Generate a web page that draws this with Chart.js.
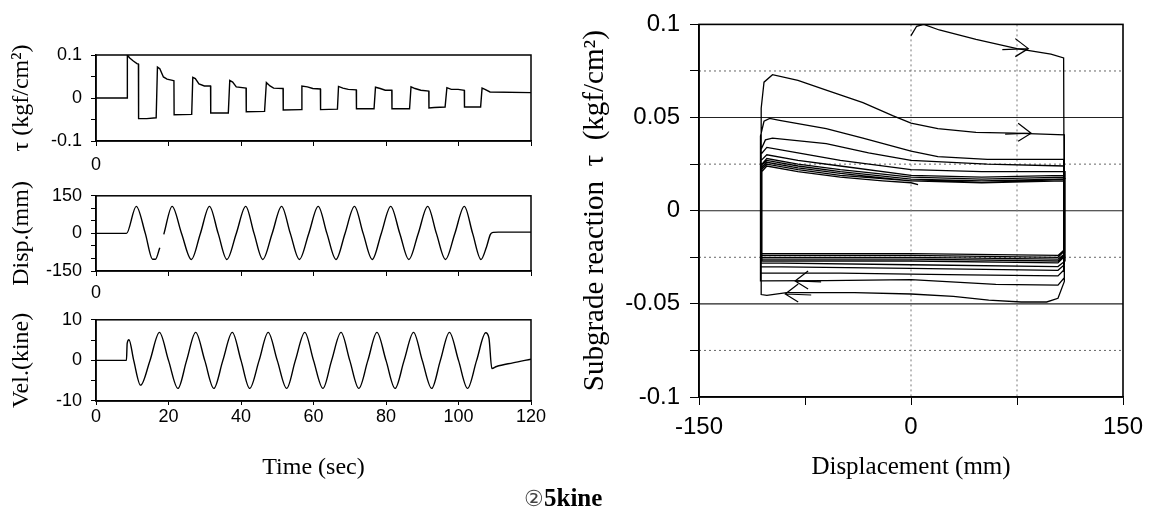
<!DOCTYPE html>
<html>
<head>
<meta charset="utf-8">
<script src="https://cdn.jsdelivr.net/npm/chart.js@4.4.0/dist/chart.umd.min.js"></script>
<style>
  body { margin: 0; background: #fff; width: 1154px; height: 519px; position: relative; overflow: hidden; }
  canvas { position: absolute; }
  #caption { position: absolute; left: 524px; top: 484px; font: bold 25px "Liberation Serif", "Times New Roman", serif; color: #000; white-space: nowrap; }
  #caption span { font-weight: normal; font-size: 22px; color: #444; }
</style>
</head>
<body>
<canvas id="tauChart" width="560" height="176" style="left:0;top:0"></canvas>
<canvas id="dispChart" width="560" height="124" style="left:0;top:176px"></canvas>
<canvas id="velChart" width="560" height="219" style="left:0;top:300px"></canvas>
<canvas id="loopChart" width="594" height="519" style="left:560px;top:0"></canvas>
<div id="caption"><span>②</span>5kine</div>
<script>
// subgrade reaction vs time (kgf/cm2)
let tauTime = [0, 8.6, 8.65, 9.3, 10.3, 11.3, 11.7,
  11.75, 14, 16.6,
  16.95, 17.6, 18.6, 19.6, 21.1, 21.5,
  21.55, 26.4,
  26.7, 27.4, 28.4, 29.9, 31.6,
  31.65, 36.5,
  36.9, 37.7, 38.7, 41.4,
  41.45, 46.5,
  47.0, 48.0, 49.0, 51.6,
  51.65, 56.6,
  56.8, 58.3, 59.8, 61.9,
  61.95, 66.6,
  66.9, 68.1, 69.6, 71.8,
  71.85, 76.7,
  77.1, 78.4, 79.8, 81.6,
  81.65, 86.5,
  86.9, 88.0, 89.6, 91.8,
  91.85, 93.3, 96.3,
  96.8, 98.0, 99.9, 101.6,
  101.65, 106.1,
  106.5, 107.3, 108.7, 120];
let tauValue = [0, 0, 0.1, 0.093, 0.086, 0.08, 0.079,
  -0.048, -0.048, -0.046,
  0.072, 0.068, 0.049, 0.044, 0.041, 0.04,
  -0.039, -0.038,
  0.048, 0.045, 0.033, 0.028, 0.028,
  -0.035, -0.035,
  0.041, 0.037, 0.026, 0.023,
  -0.032, -0.031,
  0.036, 0.028, 0.023, 0.022,
  -0.028, -0.027,
  0.028, 0.026, 0.022, 0.021,
  -0.027, -0.026,
  0.027, 0.023, 0.02, 0.019,
  -0.025, -0.025,
  0.025, 0.022, 0.018, 0.018,
  -0.025, -0.025,
  0.026, 0.022, 0.018, 0.016,
  -0.023, -0.022, -0.021,
  0.024, 0.02, 0.02, 0.018,
  -0.021, -0.021,
  0.023, 0.02, 0.014, 0.0125];

// displacement vs time (mm), null = gap in the record
let dispTime = [0, 8.4, 11.1, 13.6, 15.6, 16.4, 17.6, 18.1, 18.7, 21.0, 23.6, 26.3, 28.8, 31.3, 33.7, 36.1,
  38.7, 41.3, 43.6, 46.0, 48.6, 51.2, 53.6, 56.1, 58.7, 61.3, 63.7, 66.2, 68.7, 71.3, 73.7, 76.2,
  78.7, 81.3, 83.8, 86.3, 88.9, 91.5, 93.9, 96.4, 99.0, 101.6, 103.9, 106.2, 107.7, 108.8, 109.6, 111, 120];
let dispValue = [0, 0, 108, 0, -103, -103, -57, null, -4, 108, 0, -104, 0, 108, 0, -104,
  0, 108, 0, -104, 0, 108, 0, -104, 0, 108, 0, -104, 0, 108, 0, -104,
  0, 108, 0, -104, 0, 108, 0, -104, 0, 108, 0, -104, -55, -4, 4, 5, 5];

// velocity vs time (kine)
let velTime = [0, 8.4, 8.6, 9.1, 10.4, 12.3, 14.9, 17.5, 20.0, 22.6, 25.0, 27.5, 30.0, 32.5, 35.0, 37.6,
  40.0, 42.4, 45.0, 47.5, 50.0, 52.6, 55.0, 57.6, 60.0, 62.6, 65.0, 67.6, 70.0, 72.5, 75.0, 77.5,
  80.0, 82.5, 85.0, 87.6, 90.0, 92.6, 95.0, 97.5, 100.0, 102.5, 105.0, 107.5, 108.4, 109.2, 110.5, 115, 120];
let velValue = [0, 0, 4.2, 5.1, 0, -6.1, 0, 6.9, 0, -6.9, 0, 6.9, 0, -6.9, 0, 6.9,
  0, -6.9, 0, 6.9, 0, -6.9, 0, 6.9, 0, -6.9, 0, 6.9, 0, -6.9, 0, 6.9,
  0, -6.9, 0, 6.9, 0, -6.9, 0, 6.9, 0, -6.9, 0, 6.8, 5.5, -2.0, -1.5, -0.6, 0.3];

// hysteresis loop: displacement (mm) / subgrade reaction (kgf/cm2)
let hystDisp = [
  0, 4, 9, 20, 46, 75, 99, 108,
  108.5, 104, 96, 78, 55, 30, 0, -40, -88, -102, -106,
  -106, -104, -98, -80, -61, -34, -13, 0, 19, 46, 73, 108.5,
  108.5, 104, 60, 0, -60, -106.5,
  -106.5, -104, -100, -93, -60, -34, 0, 19, 54, 108,
  108, 104, 40, 0, -50, -106,
  -106, -103, -98, -60, -30, 0, 54, 108.5,
  108.5, 104, 0, -106.5,
  -106.5, -102, -80, -50, 0, 50, 109,
  109, 104, 0, -106,
  -106, -102, -80, -50, 0, 50, 108,
  108, 104, 0, -105.5,
  -105.5, -102, -80, -50, 0, 50, 108.5,
  108.5, 104, 0, -106.5,
  -106.5, -102, -80, -50, 0, 50, 109,
  109, 104, 0, -106,
  -106, -102, -80, -50, 0, 50, 108,
  108, 104, 0, -106,
  -106, -102, -80, -50, 0, 50, 108.5,
  108.5, 104, 0, -105.5,
  -105.5, -102, -80, -50, -20, 0, 5];
let hystTau = [
  0.094, 0.099, 0.1, 0.097, 0.092, 0.087, 0.084, 0.082,
  -0.038, -0.047, -0.049, -0.049, -0.048, -0.046, -0.0447, -0.044, -0.044, -0.0455, -0.045,
  0.055, 0.069, 0.073, 0.07, 0.065, 0.058, 0.051, 0.047, 0.044, 0.042, 0.0416, 0.0407,
  -0.036, -0.04, -0.0395, -0.037, -0.0375, -0.0377,
  0.04, 0.048, 0.0495, 0.0485, 0.044, 0.039, 0.032, 0.029, 0.0275, 0.0275,
  -0.032, -0.035, -0.0345, -0.034, -0.0335, -0.0335,
  0.033, 0.038, 0.039, 0.036, 0.031, 0.027, 0.025, 0.024,
  -0.029, -0.032, -0.031, -0.03,
  0.03, 0.034, 0.031, 0.027, 0.022, 0.021, 0.021,
  -0.027, -0.03, -0.029, -0.028,
  0.027, 0.03, 0.027, 0.024, 0.019, 0.018, 0.019,
  -0.025, -0.028, -0.027, -0.027,
  0.025, 0.028, 0.025, 0.022, 0.018, 0.017, 0.018,
  -0.024, -0.027, -0.026, -0.026,
  0.024, 0.027, 0.024, 0.021, 0.017, 0.016, 0.017,
  -0.023, -0.026, -0.025, -0.025,
  0.023, 0.026, 0.023, 0.02, 0.016, 0.016, 0.016,
  -0.022, -0.025, -0.024, -0.024,
  0.022, 0.025, 0.022, 0.019, 0.016, 0.015, 0.016,
  -0.021, -0.024, -0.023, -0.023,
  0.021, 0.024, 0.021, 0.018, 0.016, 0.015, 0.014];

// direction arrows drawn on the loop
let arrowDisp = [83, 85, -82, -89];
let arrowTau = [0.087, 0.0416, -0.0377, -0.0447];
let arrowDir = [1, 1, -1, -1];

const SANS = "'Liberation Sans', Arial, sans-serif";
const SERIF = "'Liberation Serif', 'Times New Roman', serif";

let pts = (xs, ys) => xs.map((x, i) => ({ x: x, y: ys[i] }));
let fmt = (v) => String(Math.round(v * 1000) / 1000);
let onStep = (v, step) => Math.abs(v / step - Math.round(v / step)) < 1e-6;

// frame, reference lines and arrows
const boxPlugin = {
  id: "boxPlugin",
  beforeDatasetsDraw(chart, args, o) {
    const ctx = chart.ctx, a = chart.chartArea;
    (o.lines || []).forEach((l) => {
      const p = chart.scales[l.axis].getPixelForValue(l.value);
      ctx.save();
      ctx.strokeStyle = l.color;
      ctx.lineWidth = l.width;
      ctx.setLineDash(l.dash);
      ctx.beginPath();
      if (l.axis === "y") { ctx.moveTo(a.left, p); ctx.lineTo(a.right, p); }
      else { ctx.moveTo(p, a.top); ctx.lineTo(p, a.bottom); }
      ctx.stroke();
      ctx.restore();
    });
  },
  afterDatasetsDraw(chart, args, o) {
    const ctx = chart.ctx, a = chart.chartArea;
    ctx.save();
    ctx.strokeStyle = "#000";
    ctx.lineWidth = o.frame || 1.5;
    ctx.strokeRect(a.left, a.top, a.right - a.left, a.bottom - a.top);
    if (o.arrows) {
      ctx.lineWidth = 1.2;
      o.arrows.x.forEach((xv, i) => {
        const px = chart.scales.x.getPixelForValue(xv);
        const py = chart.scales.y.getPixelForValue(o.arrows.y[i]);
        const d = o.arrows.dir[i];
        ctx.beginPath();
        ctx.moveTo(px - d * 13, py - 10);
        ctx.lineTo(px, py);
        ctx.lineTo(px - d * 13, py + 8);
        ctx.moveTo(px - d * 26, py + 1);
        ctx.lineTo(px, py);
        ctx.stroke();
      });
    }
    ctx.restore();
  },
};
Chart.register(boxPlugin);

let timeChart = (id, xs, ys, y, opt) => {
  return new Chart(document.getElementById(id), {
    type: "line",
    data: {
      datasets: [{
        data: pts(xs, ys),
        borderColor: "#000",
        borderWidth: 1.4,
        pointRadius: 0,
        spanGaps: false,
        tension: opt.smooth ? 0.4 : 0,
        cubicInterpolationMode: opt.smooth ? "monotone" : "default",
      }],
    },
    options: {
      responsive: false,
      animation: false,
      devicePixelRatio: 1,
      layout: { padding: { top: opt.top, right: 29, bottom: opt.bottom || 0, left: 0 } },
      plugins: { legend: { display: false }, tooltip: { enabled: false }, boxPlugin: { frame: 1.5 } },
      scales: {
        x: {
          type: "linear", min: 0, max: 120,
          ticks: {
            stepSize: 20, autoSkip: false, maxRotation: 0, color: "#000", padding: opt.xPad,
            font: { family: SANS, size: 18 },
            callback: (v) => (opt.allX || v === 0 ? String(v) : ""),
          },
          grid: { drawOnChartArea: false, tickLength: opt.allX ? 4 : 5, tickColor: "#000" },
          border: { color: "#000", width: 1.5 },
          title: opt.xTitle ? { display: true, text: opt.xTitle, color: "#000", font: { family: SERIF, size: 24 }, padding: { top: 0, bottom: 0 } } : { display: false },
          afterFit: (s) => { s.height = opt.xHeight; },
        },
        y: {
          min: y.min, max: y.max,
          ticks: {
            stepSize: y.step, autoSkip: false, color: "#000", padding: 9,
            font: { family: SANS, size: 18 },
            callback: (v) => (onStep(v, y.major) ? fmt(v) : ""),
          },
          grid: { drawOnChartArea: false, tickLength: 5, tickColor: "#000" },
          border: { color: "#000", width: 1.5 },
          title: { display: true, text: y.title, color: "#000", font: { family: SERIF, size: 24 }, padding: { top: 7, bottom: 0 } },
          afterFit: (s) => { s.width = 96; },
        },
      },
    },
  });
};

timeChart("tauChart", tauTime, tauValue,
  { min: -0.1, max: 0.1, step: 0.05, major: 0.1, title: "τ (kgf/cm²)" },
  { top: 55, xHeight: 35, xPad: 8, smooth: false });
timeChart("dispChart", dispTime, dispValue,
  { min: -150, max: 150, step: 50, major: 150, title: "Disp.(mm)" },
  { top: 11, xHeight: 29, xPad: 6, smooth: true });
timeChart("velChart", velTime, velValue,
  { min: -10, max: 10, step: 5, major: 10, title: "Vel.(kine)" },
  { top: 15, xHeight: 81, xPad: 1, bottom: 37, smooth: true, allX: true, xTitle: "Time (sec)" });

// hysteresis chart
let refLines = [];
[0.075, 0.025, -0.025, -0.075].forEach((v) => refLines.push({ axis: "y", value: v, color: "#666", width: 1, dash: [2, 3] }));
[0.05, 0, -0.05].forEach((v) => refLines.push({ axis: "y", value: v, color: "#222", width: 1.1, dash: [] }));
[0, 75].forEach((v) => refLines.push({ axis: "x", value: v, color: "#777", width: 1, dash: [2, 3] }));

new Chart(document.getElementById("loopChart"), {
  type: "line",
  data: {
    datasets: [{
      data: pts(hystDisp, hystTau),
      borderColor: "#000",
      borderWidth: 1.3,
      pointRadius: 0,
      tension: 0,
    }],
  },
  options: {
    responsive: false,
    animation: false,
    devicePixelRatio: 1,
    layout: { padding: { top: 16, right: 31, bottom: 37, left: 0 } },
    plugins: {
      legend: { display: false },
      tooltip: { enabled: false },
      boxPlugin: { frame: 1.6, lines: refLines, arrows: { x: arrowDisp, y: arrowTau, dir: arrowDir } },
    },
    scales: {
      x: {
        type: "linear", min: -150, max: 150,
        ticks: {
          stepSize: 75, autoSkip: false, maxRotation: 0, color: "#000", padding: 8,
          font: { family: SANS, size: 24 },
          callback: (v) => (onStep(v, 150) ? String(v) : ""),
        },
        grid: { drawOnChartArea: false, tickLength: 8, tickColor: "#000" },
        border: { color: "#000", width: 1.6 },
        title: { display: true, text: "Displacement (mm)", color: "#000", font: { family: SERIF, size: 25 }, padding: { top: 0, bottom: 0 } },
        afterFit: (s) => { s.height = 85; },
      },
      y: {
        min: -0.1, max: 0.1,
        ticks: {
          stepSize: 0.025, autoSkip: false, color: "#000", padding: 10,
          font: { family: SANS, size: 24 },
          callback: (v) => (onStep(v, 0.05) ? fmt(v) : ""),
        },
        grid: { drawOnChartArea: false, tickLength: 9, tickColor: "#000" },
        border: { color: "#000", width: 1.6 },
        title: { display: true, text: "Subgrade reaction  τ  (kgf/cm²)", color: "#000", font: { family: SERIF, size: 29 }, padding: { top: 18, bottom: 0 } },
        afterFit: (s) => { s.width = 139; },
      },
    },
  },
});
</script>
</body>
</html>
